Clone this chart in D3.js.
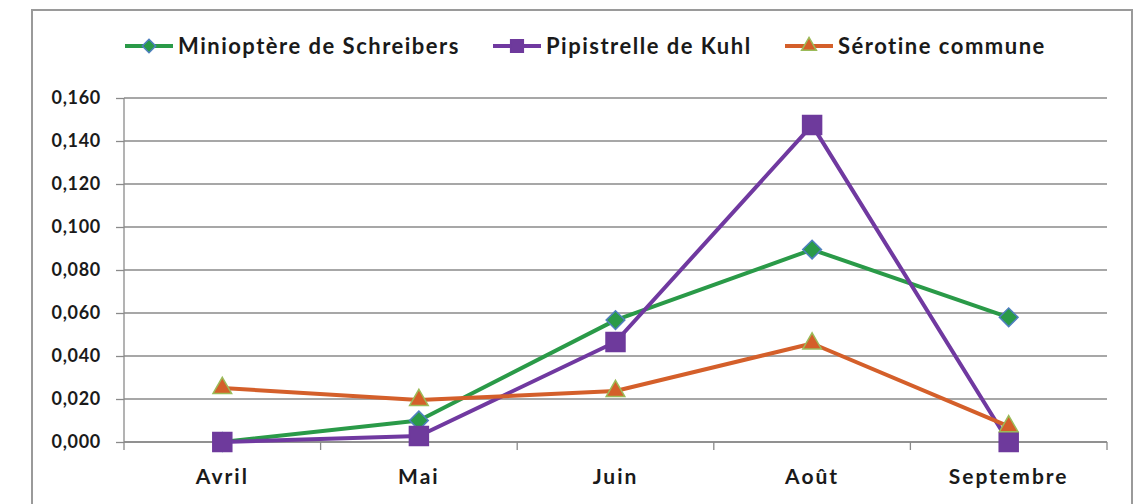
<!DOCTYPE html>
<html>
<head>
<meta charset="utf-8">
<script src="https://cdn.jsdelivr.net/npm/d3@7"></script>
<style>
  body { margin: 0; background: #fff; }
  text { font-family: Lato, "Open Sans", sans-serif; font-weight: bold; fill: #1a1a1a; }
</style>
</head>
<body>
<div class="container"></div>
<script>
// data
const months = ["Avril", "Mai", "Juin", "Août", "Septembre"];
const seriesNames = ["Minioptère de Schreibers", "Pipistrelle de Kuhl", "Sérotine commune"];
const miniopValues = [0.000, 0.010, 0.0567, 0.0895, 0.058];
const pipiValues = [0.000, 0.0028, 0.0465, 0.1474, 0.000];
const serotineValues = [0.0251, 0.0195, 0.0237, 0.0458, 0.0073];
const yTicks = [0, 0.02, 0.04, 0.06, 0.08, 0.10, 0.12, 0.14, 0.16];

const width = 1134, height = 504;
const margin = {top: 98, right: 27, bottom: 62, left: 124};
const graphWidth = width - margin.left - margin.right;
const graphHeight = height - margin.top - margin.bottom;

const svg = d3.select(".container").append("svg")
  .attr("width", width)
  .attr("height", height);

// outer frame
svg.append("rect")
  .attr("x", 32).attr("y", 10)
  .attr("width", 1100).attr("height", 510)
  .attr("fill", "none")
  .attr("stroke", "#9a9a9a")
  .attr("stroke-width", 2);

const graph = svg.append("g")
  .attr("transform", `translate(${margin.left}, ${margin.top})`);

const x = d3.scaleBand().domain(months).range([0, graphWidth]);
const y = d3.scaleLinear().domain([0, 0.16]).range([graphHeight, 0]);

const fr = d3.formatLocale({decimal: ",", thousands: " ", grouping: [3], currency: ["", "€"]});
const fmt = fr.format(".3f");

// gridlines
graph.append("g")
  .selectAll("line")
  .data(yTicks)
  .enter()
  .append("line")
  .attr("x1", 0).attr("x2", graphWidth)
  .attr("y1", d => y(d)).attr("y2", d => y(d))
  .attr("stroke", "#8a8a8a")
  .attr("stroke-width", 1.3);

// y axis
const yAxis = d3.axisLeft(y).tickValues(yTicks).tickFormat(fmt).tickSize(8).tickPadding(15);
const yAxisGroup = graph.append("g").call(yAxis);
yAxisGroup.select(".domain").attr("stroke", "#8a8a8a").attr("stroke-width", 1.3).attr("d", `M0,0V${graphHeight}`);
yAxisGroup.selectAll(".tick line").attr("stroke", "#8a8a8a").attr("stroke-width", 1.3);
yAxisGroup.selectAll("text")
  .style("font-size", "18px")
  .style("letter-spacing", "0.7px")
  .attr("fill", "#1a1a1a");

// x axis
const xAxis = d3.axisBottom(x).tickSize(0).tickPadding(27);
const xAxisGroup = graph.append("g")
  .attr("transform", `translate(0, ${graphHeight})`)
  .call(xAxis);
xAxisGroup.select(".domain").attr("stroke", "#8a8a8a").attr("stroke-width", 1.3).attr("d", `M0,0H${graphWidth}`);
xAxisGroup.selectAll("text")
  .style("font-size", "21px")
  .style("letter-spacing", "2px")
  .attr("fill", "#1a1a1a");
// category boundary ticks
xAxisGroup.selectAll(".bound")
  .data(d3.range(months.length + 1))
  .enter()
  .append("line")
  .attr("x1", i => i * x.step()).attr("x2", i => i * x.step())
  .attr("y1", 0).attr("y2", 8)
  .attr("stroke", "#8a8a8a")
  .attr("stroke-width", 1.3);

const series = [
  {name: seriesNames[0], values: miniopValues, color: "#2a9a48", fill: "#2a9a48", stroke: "#4f7fc0", shape: d3.symbolSquare, rot: 45, size: 175, lsize: 90},
  {name: seriesNames[1], values: pipiValues, color: "#7039a0", fill: "#6e3a9c", stroke: "#6e3a9c", shape: d3.symbolSquare, rot: 0, size: 360, lsize: 160},
  {name: seriesNames[2], values: serotineValues, color: "#d45f2a", fill: "#d45f2a", stroke: "#9bbb59", shape: d3.symbolTriangle, rot: 0, size: 150, lsize: 95}
];

const cx = m => x(m) + x.bandwidth() / 2;
const line = d3.line().x((d, i) => cx(months[i])).y(d => y(d));

series.forEach(s => {
  graph.append("path")
    .datum(s.values)
    .attr("d", line)
    .attr("fill", "none")
    .attr("stroke", s.color)
    .attr("stroke-width", 4)
    .attr("stroke-linejoin", "round");
});
series.forEach(s => {
  graph.selectAll(null)
    .data(s.values)
    .enter()
    .append("path")
    .attr("d", d3.symbol().type(s.shape).size(s.size))
    .attr("transform", (d, i) => `translate(${cx(months[i])}, ${y(d)}) rotate(${s.rot})`)
    .attr("fill", s.fill)
    .attr("stroke", s.stroke)
    .attr("stroke-width", 1.5);
});

// legend
const legendX = [125, 493, 785];
const legend = svg.selectAll(".legend")
  .data(series)
  .enter()
  .append("g")
  .attr("transform", (d, i) => `translate(${legendX[i]}, 46)`);
legend.append("line")
  .attr("x1", 0).attr("x2", 48)
  .attr("stroke", d => d.color)
  .attr("stroke-width", 4);
legend.append("path")
  .attr("d", d => d3.symbol().type(d.shape).size(d.lsize)())
  .attr("transform", d => `translate(24, 0) rotate(${d.rot})`)
  .attr("fill", d => d.fill)
  .attr("stroke", d => d.stroke)
  .attr("stroke-width", 1.5);
legend.append("text")
  .attr("x", 53)
  .attr("dy", "0.35em")
  .style("font-size", "22px")
  .style("letter-spacing", "1.5px")
  .text(d => d.name);
</script>
</body>
</html>
